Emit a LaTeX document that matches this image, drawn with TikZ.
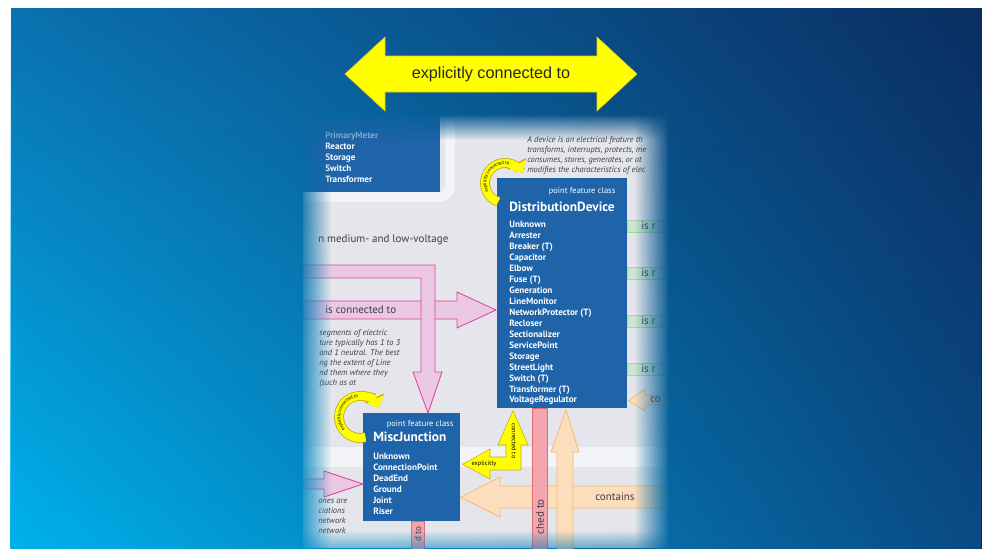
\documentclass[tikz,border=0pt]{standalone}
\usepackage{fontspec}
\setmainfont{Liberation Sans}
\newfontfamily\posterfont{PT Sans}
\usetikzlibrary{positioning, arrows.meta, calc, fadings, decorations.text}

\definecolor{BgTopLeft}{RGB}{11,113,176}
\definecolor{BgTopRight}{RGB}{11,46,98}
\definecolor{BgBottomLeft}{RGB}{0,178,236}
\definecolor{BgBottomRight}{RGB}{10,74,132}
\definecolor{FadeLeftTop}{RGB}{9,103,162}
\definecolor{FadeLeftBottom}{RGB}{3,145,203}
\definecolor{FadeRightTop}{RGB}{10,77,133}
\definecolor{FadeRightBottom}{RGB}{7,109,167}
\definecolor{FadeTopLeft}{RGB}{9,105,164}
\definecolor{FadeTopRight}{RGB}{10,77,132}
\definecolor{FadeBottomLeft}{RGB}{3,147,205}
\definecolor{FadeBottomRight}{RGB}{7,108,166}
\definecolor{PosterColor}{RGB}{228,230,235}
\definecolor{BandColor}{RGB}{243,244,247}
\definecolor{ClassColor}{RGB}{31,99,168}
\definecolor{NoteColor}{RGB}{62,62,70}
\definecolor{LinkColor}{RGB}{226,66,152}
\definecolor{LinkFill}{RGB}{234,200,228}
\definecolor{ExplicitColor}{RGB}{255,255,0}
\definecolor{ExplicitEdge}{RGB}{196,170,30}
\definecolor{AttachColor}{RGB}{224,110,122}
\definecolor{AttachFill}{RGB}{244,166,174}
\definecolor{ContainColor}{RGB}{244,184,118}
\definecolor{ContainFill}{RGB}{252,222,188}
\definecolor{RelateColor}{RGB}{170,212,170}
\definecolor{RelateFill}{RGB}{204,232,204}

\tikzfading[name=fade right, left color=transparent!0, right color=transparent!100]
\tikzfading[name=fade left, left color=transparent!100, right color=transparent!0]
\tikzfading[name=fade down, top color=transparent!0, bottom color=transparent!100]
\tikzfading[name=fade up, top color=transparent!100, bottom color=transparent!0]

\tikzstyle{banner} = [fill=ExplicitColor, draw=ExplicitEdge!60!ExplicitColor, line width=0.4pt]
\tikzstyle{bannertext} = [text=black!85, font=\fontsize{11.5}{13}\selectfont, inner sep=0pt]
\tikzstyle{classbox} = [rectangle, fill=ClassColor, inner sep=0pt]
\tikzstyle{classhead} = [text=white, font=\posterfont\fontsize{6}{7}\selectfont, inner sep=0pt]
\tikzstyle{classtitle} = [text=white, font=\posterfont\bfseries\fontsize{9.5}{11}\selectfont, inner sep=0pt]
\tikzstyle{classitems} = [text=white, align=left, font=\posterfont\bfseries\fontsize{6.5}{7.8}\selectfont, inner sep=0pt]
\tikzstyle{note} = [text=NoteColor, align=left, font=\posterfont\itshape\fontsize{6}{7.1}\selectfont, inner sep=0pt]
\tikzstyle{linktext} = [text=NoteColor, font=\posterfont\fontsize{7.8}{9}\selectfont, inner sep=0pt]
\tikzstyle{tinytext} = [text=black, font=\posterfont\fontsize{4.5}{5}\selectfont, inner sep=0pt]
\tikzstyle{link} = [draw=LinkColor, fill=LinkFill, line width=0.6pt]
\tikzstyle{explicit} = [draw=ExplicitEdge, fill=ExplicitColor, line width=0.4pt]
\tikzstyle{attach} = [draw=AttachColor, fill=AttachFill, line width=0.5pt]
\tikzstyle{contain} = [draw=ContainColor, fill=ContainFill, line width=0.5pt]
\tikzstyle{relate} = [draw=RelateColor, fill=RelateFill, line width=0.4pt]
\tikzstyle{ringedge} = [draw=ExplicitEdge, line width=7pt, -{Triangle[width=15pt, length=8pt]}]
\tikzstyle{ringfill} = [draw=ExplicitColor, line width=5.8pt, -{Triangle[width=13pt, length=7pt]}]
\tikzstyle{ringtext} = [decorate, decoration={text along path, text align=center, raise=-0.9pt,
    text={|\posterfont\fontsize{3.3}{4}\selectfont|explicitly connected to}}]

\begin{document}
\begin{tikzpicture}[x=0.025cm, y=-0.025cm]
  \useasboundingbox (0,0) rectangle (982,548);
  % slide background
  \fill[white] (0,0) rectangle (982,548);
  \shade[left color=BgTopLeft, right color=BgTopRight] (11,8) rectangle (982,548);
  \shade[left color=BgBottomLeft, right color=BgBottomRight, path fading=fade up] (11,8) rectangle (982,548);

  % banner arrow
  \filldraw[banner] (345,74) -- (385,37) -- (385,56) -- (597,56) -- (597,37) -- (637,74)
    -- (597,111) -- (597,92) -- (385,92) -- (385,111) -- cycle;
  \node[bannertext] (banner) at (491,74) {explicitly connected to};

  % poster cut-out
  \begin{scope}
    \clip (303,116) rectangle (668,548);
    \fill[PosterColor] (303,116) rectangle (668,548);
    \fill[BandColor] (303,447) rectangle (668,467);
    \draw[BandColor, line width=7pt, rounded corners=8pt] (303,197) -- (450,197) -- (450,116);

    % classes
    \node[classbox, anchor=north west, minimum width=3.45cm, minimum height=2.05cm] (meter) at (302,110) {};
    \node[classitems, below right=0.54cm and 0.575cm of meter.north west, anchor=north west] (meterItems)
      {\textcolor{ClassColor!45!white}{PrimaryMeter}\\Reactor\\Storage\\Switch\\Transformer};

    \node[classbox, anchor=north west, minimum width=3.25cm, minimum height=5.75cm] (dist) at (497,178) {};
    \node[classhead, below left=0.225cm and 0.3cm of dist.north east] (distHead) {point feature class};
    \node[classtitle, below right=0.6cm and 0.3cm of dist.north west] (distTitle) {DistributionDevice};
    \node[classitems, below right=1.07cm and 0.3cm of dist.north west] (distItems)
      {Unknown\\Arrester\\Breaker (T)\\Capacitor\\Elbow\\Fuse (T)\\Generation\\LineMonitor\\%
       NetworkProtector (T)\\Recloser\\Sectionalizer\\ServicePoint\\Storage\\StreetLight\\%
       Switch (T)\\Transformer (T)\\VoltageRegulator};

    \node[classbox, anchor=north west, minimum width=2.425cm, minimum height=2.7cm] (misc) at (363,413) {};
    \node[classhead, below left=0.175cm and 0.175cm of misc.north east] (miscHead) {point feature class};
    \node[classtitle, below right=0.475cm and 0.25cm of misc.north west] (miscTitle) {MiscJunction};
    \node[classitems, below right=0.99cm and 0.25cm of misc.north west] (miscItems)
      {Unknown\\ConnectionPoint\\DeadEnd\\Ground\\Joint\\Riser};

    % poster texts
    \node[linktext, anchor=west] (voltage) at (318,240) {n medium- and low-voltage};
    \node[note, anchor=north west] (lineNote) at (319,329)
      {segments of electric\\ture typically has 1 to 3\\and 1 neutral. The best\\ng the extent of Line\\nd them where they\\(such as at};
    \node[note, anchor=north west] (netNote) at (318,499) {ones are\\ciations\\network\\network};
    \node[note, anchor=north west] (deviceNote) at (527,136)
      {A device is an electrical feature th\\transforms, interrupts, protects, me\\consumes, stores, generates, or ot\\modifies the characteristics of elec};

    % is connected to
    \filldraw[link] (303,301) -- (457,301) -- (457,292) -- ($(dist.north west)+(-1,132)$)
      -- (457,328) -- (457,319) -- (303,319) -- cycle;
    \node[linktext, anchor=west] (connLabel) at (325,310) {is connected to};
    \filldraw[link] (303,265) -- (435,265) -- (435,372) -- (442,372) -- ($(misc.north west)+(65,0)$)
      -- (413,372) -- (421,372) -- (421,278) -- (303,278) -- cycle;
    \filldraw[link] (303,479) -- (324,479) -- (324,471) -- (misc.west |- 0,484) -- (324,497) -- (324,489) -- (303,489) -- cycle;

    % is related (green)
    \foreach \y in {220,267,315,363} {
      \filldraw[relate] (dist.east |- 0,\y) rectangle (670,\y+12);
      \node[linktext, anchor=west] at (641,\y+6) {is r};
    }

    % contains
    \filldraw[contain] (670,486) -- (500,486) -- (500,477) -- ($(misc.east)+(0,30)$) -- (500,517) -- (500,508) -- (670,508) -- cycle;
    \node[linktext, anchor=west] (containLabel) at (595,497) {contains};
    \filldraw[contain] (670,395) -- (645,395) -- (645,389) -- ($(dist.south east)+(1,-8)$) -- (645,411) -- (645,405) -- (670,405) -- cycle;
    \node[linktext, anchor=west] at (650,400) {co};

    % attached to
    \filldraw[attach] ($(dist.south west)+(35,0)$) rectangle (547,552);
    \node[linktext, rotate=90, anchor=east] (attachLabel) at (540,499) {ched to};
    \filldraw[attach] ($(misc.south west)+(48,0)$) rectangle (424,552);
    \node[linktext, rotate=90, anchor=east, font=\posterfont\fontsize{6.5}{7}\selectfont] at (418,526) {d to};

    % contains (up)
    \filldraw[contain] (557,552) -- (557,452) -- (551,452) -- ($(dist.south west)+(69,1)$) -- (579,452) -- (573,452) -- (573,552) -- cycle;

    % explicitly connected (L)
    \filldraw[explicit] (521,470) -- (521,445) -- (528,445) -- ($(dist.south west)+(16,2)$) -- (498,445) -- (506,445)
      -- (506,457) -- (490,457) -- (490,449) -- ($(misc.east)+(2,-3)$) -- (490,479) -- (490,470) -- cycle;
    \node[tinytext] (explLabel) at (484,464) {explicitly};
    \node[tinytext, rotate=-90] (explConn) at (514,441) {connected to};

    % self relations
    \draw[ringedge] ($(dist.north west)+(8,5)$) ++(110:20) arc[start angle=110, end angle=330, radius=20];
    \draw[ringfill] ($(dist.north west)+(8,5)$) ++(110:20) arc[start angle=110, end angle=330, radius=20];
    \path[ringtext] ($(dist.north west)+(8,5)$) ++(112:20) arc[start angle=112, end angle=322, radius=20];
    \draw[ringedge] ($(misc.north west)+(-3,4)$) ++(75:21) arc[start angle=75, end angle=335, radius=21];
    \draw[ringfill] ($(misc.north west)+(-3,4)$) ++(75:21) arc[start angle=75, end angle=335, radius=21];
    \path[ringtext] ($(misc.north west)+(-3,4)$) ++(80:21) arc[start angle=80, end angle=325, radius=21];
  \end{scope}

  % soft edges of the cut-out
  \shade[top color=FadeLeftTop, bottom color=FadeLeftBottom, path fading=fade right] (298,116) rectangle (331,548);
  \shade[top color=FadeRightTop, bottom color=FadeRightBottom, path fading=fade left] (634,116) rectangle (669,548);
  \shade[left color=FadeTopLeft, right color=FadeTopRight, path fading=fade down] (298,114) rectangle (669,140);
  \shade[left color=FadeBottomLeft, right color=FadeBottomRight, path fading=fade up, opacity=0.55] (298,530) rectangle (669,548);
\end{tikzpicture}
\end{document}
